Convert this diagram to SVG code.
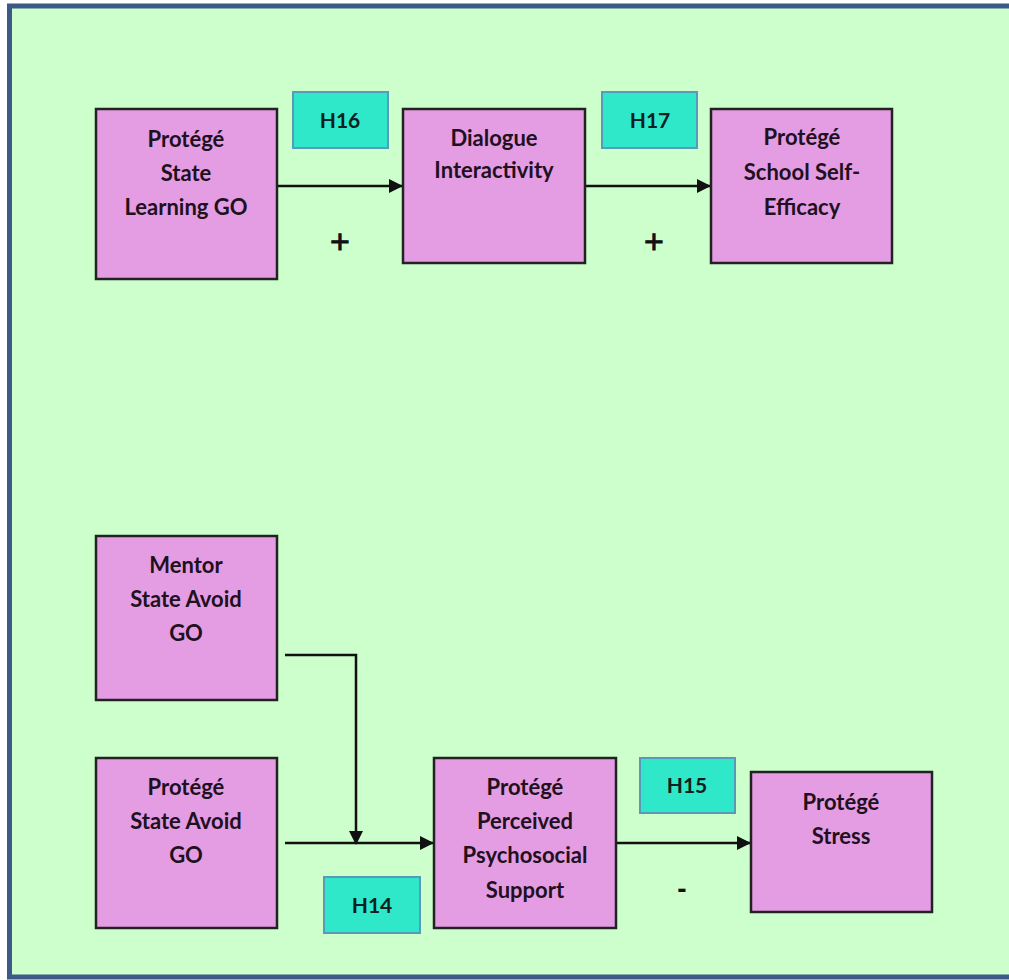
<svg xmlns="http://www.w3.org/2000/svg" width="1009" height="980" viewBox="0 0 1009 980">
<defs>
<marker id="arr" markerWidth="14" markerHeight="14" refX="13" refY="7" orient="auto" markerUnits="userSpaceOnUse">
<path d="M0,0 L14,7 L0,14 Z" fill="#111"/>
</marker>
<style>
.box{fill:#e49de3;stroke:#222;stroke-width:2.5}
.hyp{fill:#2ee8c9;stroke:#5a9ab8;stroke-width:2}
.t{font-family:Lato,"Open Sans",sans-serif;font-weight:bold;font-size:22px;fill:#201020;text-anchor:middle}
.h{font-family:Lato,"Open Sans",sans-serif;font-weight:bold;font-size:21px;fill:#102020;text-anchor:middle}
.s{font-family:"Liberation Sans",sans-serif;font-size:34px;fill:#111;stroke:#111;stroke-width:0.8;text-anchor:middle}
.d{font-family:"Liberation Sans",sans-serif;font-weight:bold;font-size:28px;fill:#111;text-anchor:middle}
.c{fill:none;stroke:#111;stroke-width:2.5}
</style>
</defs>
<rect x="0" y="0" width="1009" height="980" fill="#ffffff"/>
<rect x="9.5" y="6" width="1010" height="971" fill="#ccffcc" stroke="#3c5a88" stroke-width="5"/>

<g id="connectors">
<line class="c" x1="278" y1="186" x2="402" y2="186" marker-end="url(#arr)"/>
<line class="c" x1="586" y1="186" x2="710" y2="186" marker-end="url(#arr)"/>
<polyline class="c" points="285,655 356,655 356,844" marker-end="url(#arr)"/>
<line class="c" x1="285" y1="843" x2="433" y2="843" marker-end="url(#arr)"/>
<line class="c" x1="617" y1="843" x2="750" y2="843" marker-end="url(#arr)"/>
</g>

<g id="n-learning">
<rect class="box" x="96" y="109" width="181" height="170"/>
<text class="t" x="186" y="147">Protégé</text>
<text class="t" x="186" y="181">State</text>
<text class="t" x="186" y="215">Learning GO</text>
</g>
<g id="n-dialogue">
<rect class="box" x="403" y="109" width="182" height="154"/>
<text class="t" x="494" y="146">Dialogue</text>
<text class="t" x="494" y="178">Interactivity</text>
</g>
<g id="n-selfefficacy">
<rect class="box" x="711" y="109" width="181" height="154"/>
<text class="t" x="802" y="145">Protégé</text>
<text class="t" x="802" y="180">School Self-</text>
<text class="t" x="802" y="215">Efficacy</text>
</g>
<g id="n-mentor">
<rect class="box" x="96" y="536" width="181" height="164"/>
<text class="t" x="186" y="573">Mentor</text>
<text class="t" x="186" y="607">State Avoid</text>
<text class="t" x="186" y="641">GO</text>
</g>
<g id="n-protege-avoid">
<rect class="box" x="96" y="758" width="181" height="170"/>
<text class="t" x="186" y="795">Protégé</text>
<text class="t" x="186" y="829">State Avoid</text>
<text class="t" x="186" y="863">GO</text>
</g>
<g id="n-psychosocial">
<rect class="box" x="434" y="758" width="182" height="170"/>
<text class="t" x="525" y="795">Protégé</text>
<text class="t" x="525" y="829">Perceived</text>
<text class="t" x="525" y="863">Psychosocial</text>
<text class="t" x="525" y="898">Support</text>
</g>
<g id="n-stress">
<rect class="box" x="751" y="772" width="181" height="140"/>
<text class="t" x="841" y="810">Protégé</text>
<text class="t" x="841" y="844">Stress</text>
</g>

<g id="h16"><rect class="hyp" x="293" y="92" width="95" height="56"/><text class="h" x="340" y="128">H16</text></g>
<g id="h17"><rect class="hyp" x="602" y="92" width="95" height="56"/><text class="h" x="650" y="128">H17</text></g>
<g id="h15"><rect class="hyp" x="640" y="758" width="95" height="55"/><text class="h" x="687" y="793">H15</text></g>
<g id="h14"><rect class="hyp" x="324" y="877" width="96" height="56"/><text class="h" x="372" y="913">H14</text></g>

<g id="signs">
<text class="s" x="340" y="253">+</text>
<text class="s" x="654" y="253">+</text>
<text class="d" x="682" y="898">-</text>
</g>
</svg>
